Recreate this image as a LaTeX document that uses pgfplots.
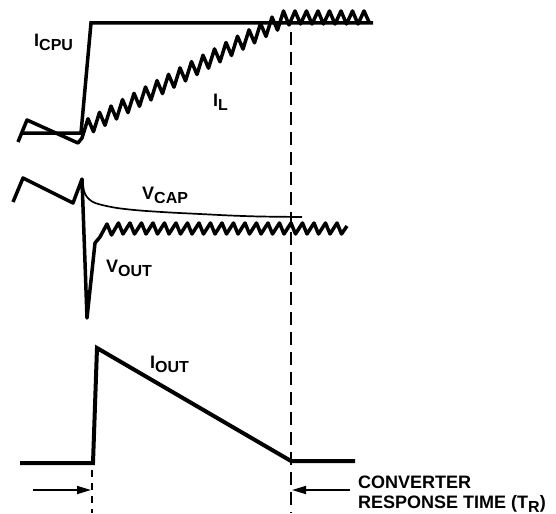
\documentclass[border=0pt]{standalone}
\usepackage{pgfplots}
\pgfplotsset{compat=1.18}
\usepackage{fontspec}
\setmainfont{Liberation Sans}
\usetikzlibrary{arrows.meta}
\newcommand{\lbl}[2]{{\bfseries\fontsize{18bp}{18bp}\selectfont #1\raisebox{-4bp}{\fontsize{16bp}{16bp}\selectfont #2}}}
\newcommand{\txt}[1]{{\bfseries\fontsize{18bp}{18bp}\selectfont #1}}
\begin{document}
\begin{tikzpicture}
\begin{axis}[
  scale only axis, width=556bp, height=513bp,
  xmin=0, xmax=556, ymin=0, ymax=513, y dir=reverse,
  axis lines=none, clip=false,
]
\addplot[draw=none] coordinates {(0,0) (556,513)};
% I_CPU
\addplot[black, line width=3.5bp, line join=miter] coordinates {(23,133) (81,133) (91,23) (373,23)};
% I_L
\addplot[black, line width=3.5bp, line join=round] coordinates {
(18,142) (27,120) (78,143) (82,138) (88,118.7) (93.5,131.7) (99.5,112.3) (105,125.3) (111,106.0) (116.5,119.0) (122.5,99.6) (128,112.6) (134,93.3) (139.5,106.3) (145.5,87.0) (151,99.9) (157,80.6) (162.5,93.6) (168.5,74.3) (174,87.2) (180,67.9) (185.5,80.9) (191.5,61.6) (197,74.5) (203,55.2) (208.5,68.2) (214.5,48.9) (220,61.8) (226,42.5) (231.5,55.5) (237.5,36.2) (243,49.1) (249,29.8) (254.5,42.8) (260.5,23.5) (266,36.4) (272,17.1) (277.5,30.1) (283.5,11) (289,25) (295,11) (300.5,24) (306.5,11) (312,24) (318,11) (323.5,24) (329.5,11) (335,24) (341,11) (346.5,24) (352.5,11) (358,24) (364,11) (369.5,23)};
% V_OUT
\addplot[black, line width=3.5bp, line join=round] coordinates {
(13,202) (23,178) (73,203) (82,179) (87,318) (95,243) (100,237) (107,224) (111.5,235) (118.5,223) (123,234) (130,223) (134.5,234) (141.5,223) (146,234) (153,223) (157.5,234) (164.5,223) (169,234) (176,223) (180.5,234) (187.5,223) (192,234) (199,223) (203.5,234) (210.5,223) (215,234) (222,223) (226.5,234) (233.5,223) (238,234) (245,223) (249.5,234) (256.5,223) (261,234) (268,223) (272.5,234) (279.5,223) (284,234) (291,223) (295.5,234) (302.5,223) (307,234) (314,223) (318.5,234) (325.5,223) (330,234) (337,223) (341.5,234) (347,226)};
% V_CAP
\addplot[black, line width=1.7bp, smooth] coordinates {
(82,179) (84,191) (87,197) (92,201.5) (100,204.5) (117,208) (140,210.5) (170,212.5) (200,214) (230,215.5) (260,216.5) (302,217)};
% I_OUT
\addplot[black, line width=4bp, line join=miter] coordinates {(20,463) (93,463) (97,348) (291,461) (355,461)};
% dashed markers
\addplot[black, line width=2bp, dash pattern=on 13bp off 7bp] coordinates {(291,32) (291,513)};
\addplot[black, line width=2bp, dash pattern=on 7bp off 6bp] coordinates {(92,470) (92,513)};
% arrows
\addplot[black, line width=1.7bp, -{Triangle[length=14bp,width=8bp]}] coordinates {(33,490) (91,490)};
\addplot[black, line width=1.7bp, -{Triangle[length=14bp,width=8bp]}] coordinates {(350,490) (292,490)};
% labels
\node[anchor=base west, inner sep=0pt] at (axis cs:34,47) {\lbl{I}{CPU}};
\node[anchor=base west, inner sep=0pt] at (axis cs:213,106) {\lbl{I}{L}};
\node[anchor=base west, inner sep=0pt] at (axis cs:142,199) {\lbl{V}{CAP}};
\node[anchor=base west, inner sep=0pt] at (axis cs:106,272) {\lbl{V}{OUT}};
\node[anchor=base west, inner sep=0pt] at (axis cs:150,368) {\lbl{I}{OUT}};
\node[anchor=base west, inner sep=0pt] at (axis cs:358,488) {\txt{CONVERTER}};
\node[anchor=base west, inner sep=0pt] at (axis cs:358,508) {\txt{RESPONSE TIME (T\raisebox{-4bp}{\fontsize{16bp}{16bp}\selectfont R})}};
\end{axis}
\end{tikzpicture}
\end{document}
